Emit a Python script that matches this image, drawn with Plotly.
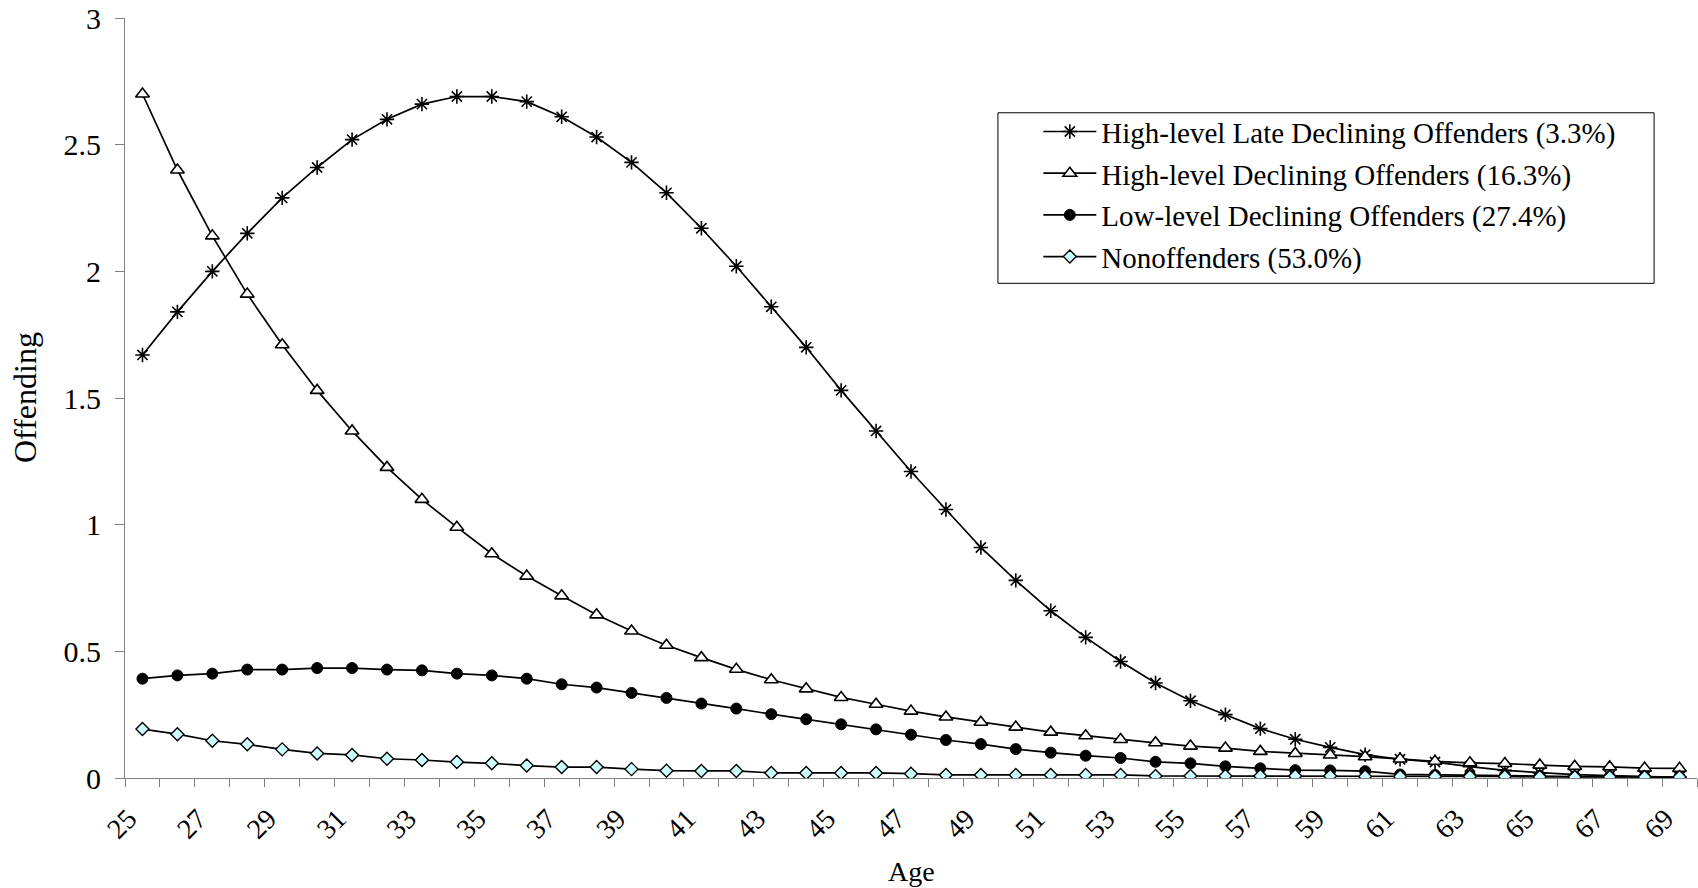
import plotly.graph_objects as go

ages = list(range(25, 70))

late_declining = [1.67, 1.84, 2.00, 2.15, 2.29, 2.41, 2.52, 2.60, 2.66, 2.69,
                  2.69, 2.67, 2.61, 2.53, 2.43, 2.31, 2.17, 2.02, 1.86, 1.70,
                  1.53, 1.37, 1.21, 1.06, 0.91, 0.78, 0.66, 0.555, 0.46, 0.375,
                  0.305, 0.25, 0.195, 0.153, 0.121, 0.092, 0.074, 0.063, 0.045, 0.03,
                  0.02, 0.013, 0.009, 0.005, 0.003]

high_declining = [2.70, 2.40, 2.14, 1.91, 1.71, 1.53, 1.37, 1.226, 1.10, 0.99,
                  0.885, 0.797, 0.719, 0.644, 0.58, 0.524, 0.475, 0.429, 0.388, 0.352,
                  0.318, 0.291, 0.264, 0.241, 0.22, 0.201, 0.181, 0.167, 0.152, 0.139,
                  0.126, 0.118, 0.105, 0.097, 0.091, 0.084, 0.075, 0.066, 0.060, 0.057,
                  0.051, 0.046, 0.044, 0.039, 0.038]

low_declining = [0.392, 0.405, 0.412, 0.428, 0.428, 0.434, 0.434, 0.428, 0.425, 0.412,
                 0.405, 0.392, 0.370, 0.357, 0.336, 0.316, 0.294, 0.274, 0.252, 0.232,
                 0.212, 0.192, 0.171, 0.150, 0.134, 0.114, 0.100, 0.088, 0.079, 0.064,
                 0.058, 0.046, 0.038, 0.031, 0.030, 0.027, 0.014, 0.012, 0.011, 0.010,
                 0.008, 0.006, 0.005, 0.004, 0.003]

nonoffenders = [0.193, 0.173, 0.147, 0.133, 0.113, 0.097, 0.091, 0.076, 0.071, 0.063,
                0.058, 0.049, 0.043, 0.043, 0.035, 0.029, 0.028, 0.028, 0.020, 0.020,
                0.020, 0.020, 0.017, 0.012, 0.012, 0.012, 0.012, 0.012, 0.012, 0.008,
                0.008, 0.008, 0.008, 0.008, 0.008, 0.006, 0.006, 0.006, 0.006, 0.006,
                0.004, 0.004, 0.004, 0.004, 0.004]

series_names = [
    "High-level Late Declining Offenders (3.3%)",
    "High-level Declining Offenders (16.3%)",
    "Low-level Declining Offenders (27.4%)",
    "Nonoffenders (53.0%)",
]

tick_ages = list(range(25, 70, 2))
tick_labels = [str(a) for a in tick_ages]
y_ticks = [0, 0.5, 1, 1.5, 2, 2.5, 3]

FONT = "Times New Roman, Liberation Serif, serif"

fig = go.Figure()

styles = [
    dict(symbol="asterisk-open", size=12, color="black", line=dict(color="black", width=1.6)),
    dict(symbol="triangle-up", size=12, color="white", line=dict(color="black", width=1.6)),
    dict(symbol="circle", size=11, color="black", line=dict(color="black", width=1)),
    dict(symbol="diamond", size=10, color="#CCFFFF", line=dict(color="black", width=1.4)),
]
data = [late_declining, high_declining, low_declining, nonoffenders]

for i, (name, vals, mk) in enumerate(zip(series_names, data, styles)):
    fig.add_trace(go.Scatter(
        x=ages, y=vals, mode="lines+markers", name=name,
        legendgroup=f"g{i}",
        line=dict(color="black", width=1.7),
        marker=mk,
    ))

fig.update_layout(
    width=1698, height=888,
    margin=dict(l=125, r=1, t=16, b=110),
    paper_bgcolor="white", plot_bgcolor="white",
    font=dict(family=FONT, size=28, color="black"),
    showlegend=True,
    legend=dict(
        x=0.581, y=0.884, xanchor="left", yanchor="top",
        bgcolor="rgba(0,0,0,0)", borderwidth=0,
        font=dict(family=FONT, size=29, color="black"),
        traceorder="grouped", tracegroupgap=1,
        itemwidth=53,
    ),
    shapes=[dict(
        type="rect", xref="paper", yref="paper",
        x0=0.5553, x1=0.9727, y0=0.6509, y1=0.8753,
        line=dict(color="black", width=1), fillcolor="white", layer="below",
    )],
    annotations=[
        dict(
            text="Offending", xref="paper", yref="paper",
            x=-0.0636, y=0.5, xanchor="center", yanchor="middle",
            textangle=-90, showarrow=False,
            font=dict(family=FONT, size=32, color="black"),
        ),
        dict(
            text="Age", xref="paper", yref="paper",
            x=0.5, y=-0.1234, xanchor="center", yanchor="middle",
            showarrow=False,
            font=dict(family=FONT, size=28, color="black"),
        ),
    ],
)

fig.update_xaxes(
    range=[24.5, 69.5],
    tickmode="array", tickvals=tick_ages, ticktext=tick_labels,
    tickangle=-45, ticks="", ticklabelstandoff=12, ticklabelshift=-14,
    ticklabeloverflow="allow",
    tickfont=dict(family=FONT, size=28, color="black"),
    minor=dict(tickmode="linear", tick0=24.5, dtick=1, ticks="outside",
               ticklen=8, tickwidth=1, tickcolor="#808080"),
    showline=True, linecolor="#808080", linewidth=1,
    showgrid=False, zeroline=False,
)

fig.update_yaxes(
    range=[0, 3],
    tickmode="array", tickvals=y_ticks,
    ticks="outside", ticklen=9, tickwidth=1, tickcolor="#808080",
    ticklabelstandoff=8, ticklabeloverflow="allow",
    tickfont=dict(family=FONT, size=30, color="black"),
    showline=True, linecolor="#808080", linewidth=1,
    showgrid=False, zeroline=False,
)

fig.write_html(
    "out.html",
    config={"displayModeBar": False},
    post_script="document.body.style.margin='0';document.body.style.overflow='hidden';",
)
